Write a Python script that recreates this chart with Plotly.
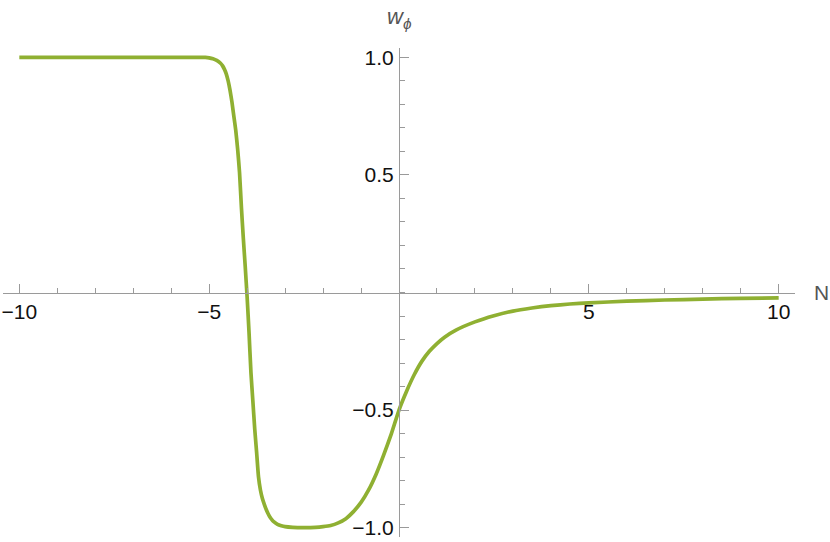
import plotly.graph_objects as go

# curve
N = [-10, -6, -5.1, -5.0, -4.9, -4.8, -4.7, -4.65, -4.6, -4.55, -4.5, -4.45,
     -4.4, -4.35, -4.3, -4.25, -4.2, -4.15, -4.1, -4.05, -4.0, -3.95, -3.9,
     -3.85, -3.8, -3.75, -3.7, -3.65, -3.6, -3.55, -3.5, -3.45, -3.4, -3.35,
     -3.3, -3.2, -3.1, -3.0, -2.8, -2.5, -2.2, -2.0, -1.8, -1.6, -1.4, -1.2,
     -1.0, -0.8, -0.6, -0.4, -0.2, 0, 0.2, 0.4, 0.6, 0.8, 1.0, 1.2, 1.5, 2.0,
     2.5, 3, 3.5, 4, 4.5, 5, 6, 7, 8, 9, 10]
w_phi = [1.0, 1.0, 1.0, 0.998, 0.994, 0.987, 0.975, 0.965, 0.95, 0.93, 0.90,
         0.86, 0.81, 0.75, 0.69, 0.61, 0.51, 0.36, 0.23, 0.11, -0.02, -0.17,
         -0.34, -0.46, -0.58, -0.68, -0.785, -0.84, -0.875, -0.90, -0.922,
         -0.94, -0.955, -0.966, -0.975, -0.986, -0.992, -0.996, -0.999, -1.0,
         -0.999, -0.996, -0.991, -0.98, -0.962, -0.932, -0.893, -0.84, -0.772,
         -0.69, -0.6, -0.5, -0.42, -0.35, -0.293, -0.25, -0.217, -0.19, -0.16,
         -0.125, -0.099, -0.079, -0.066, -0.056, -0.049, -0.044, -0.037,
         -0.032, -0.028, -0.025, -0.023]

x_ticks = [-10, -5, 5, 10]
x_labels = ['\u221210', '\u22125', '5', '10']
y_ticks = [-1.0, -0.5, 0.5, 1.0]
y_labels = ['\u22121.0', '\u22120.5', '0.5', '1.0']

axis_grey = '#9a9a9a'
font = dict(family='Liberation Sans, Arial, sans-serif', size=21, color='#111111')
label_font = dict(family='Liberation Sans, Arial, sans-serif', size=21, color='#555555')

x_range = [-10.43, 10.43]
y_range = [-1.04, 1.04]

fig = go.Figure()
fig.add_trace(go.Scatter(
    x=N, y=w_phi, mode='lines',
    line=dict(color='#8fb032', width=3.7, shape='spline', smoothing=0.5),
    hoverinfo='skip', showlegend=False
))

fig.update_layout(
    width=830, height=542,
    margin=dict(l=3, r=35, t=48, b=5),
    plot_bgcolor='white', paper_bgcolor='white',
    xaxis=dict(
        range=x_range, anchor='free',
        position=(0 - y_range[0]) / (y_range[1] - y_range[0]),
        showgrid=False, zeroline=False,
        showline=True, linecolor=axis_grey, linewidth=1,
        tickvals=x_ticks, ticktext=x_labels, ticks='inside',
        ticklen=9, tickcolor=axis_grey, tickfont=font, ticklabelstandoff=0,
        ticklabeloverflow='allow',
        minor=dict(dtick=1, tick0=0, ticks='inside', ticklen=5, tickcolor=axis_grey),
    ),
    yaxis=dict(
        range=y_range, anchor='free',
        position=(0 - x_range[0]) / (x_range[1] - x_range[0]),
        showgrid=False, zeroline=False,
        showline=True, linecolor=axis_grey, linewidth=1,
        tickvals=y_ticks, ticktext=y_labels, ticks='inside',
        ticklen=9, tickcolor=axis_grey, tickfont=font, ticklabelstandoff=1,
        ticklabeloverflow='allow',
        minor=dict(dtick=0.1, tick0=0, ticks='inside', ticklen=5, tickcolor=axis_grey),
    ),
    annotations=[
        dict(text='N', xref='paper', x=1, xanchor='left', xshift=17,
             yref='y', y=0, yanchor='middle', showarrow=False, font=label_font),
        dict(text='<i>w</i><sub><i>\u03d5</i></sub>', xref='x', x=0, xanchor='center',
             yref='paper', y=1, yanchor='middle', yshift=30, showarrow=False,
             font=dict(label_font, size=22)),
    ],
)

# page body has a default 8px margin; drop it so the figure sits at the corner
fig.write_html('out.html', config={'displayModeBar': False},
               post_script="document.body.style.margin='0';")
